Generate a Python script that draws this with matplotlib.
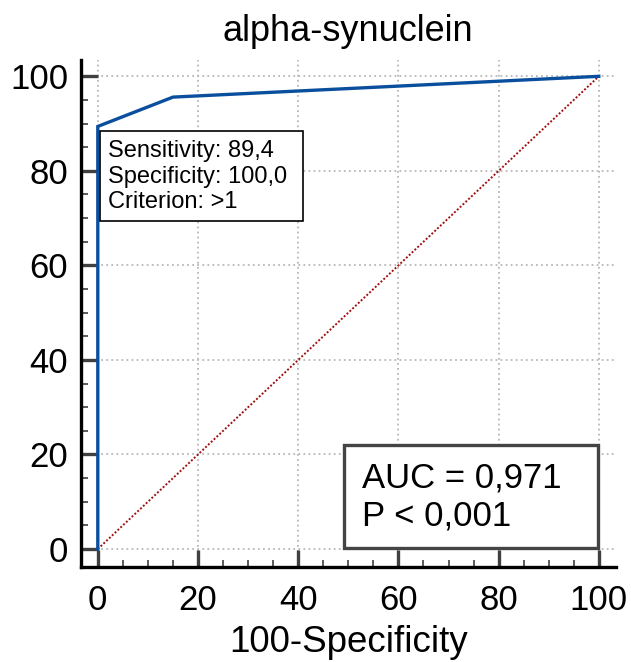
import matplotlib
matplotlib.use("Agg")
import matplotlib.pyplot as plt
from matplotlib.ticker import MultipleLocator
from matplotlib.patches import Rectangle

plt.rcParams['font.family'] = ['Liberation Sans', 'DejaVu Sans']

# ROC curve points (100-Specificity, Sensitivity)
fpr = [0, 0, 15, 100]
tpr = [0, 89.4, 95.6, 100]
ref_x = [0, 100]
ref_y = [0, 100]
title = "alpha-synuclein"
xlabel = "100-Specificity"
cut_lines = ["Sensitivity: 89,4", "Specificity: 100,0", "Criterion: >1"]
auc_lines = ["AUC = 0,971", "P < 0,001"]

fig = plt.figure(figsize=(6.31, 6.62), dpi=100)
ax = fig.add_axes([0.128, 0.1435, 0.848, 0.7655])

ax.set_xlim(-3.4, 103.4)
ax.set_ylim(-3.8, 103.4)

ax.grid(True, which='major', linestyle=(0, (1, 1.8)), color='#b8b8b8', linewidth=1.3)
ax.set_axisbelow(True)

ax.plot(ref_x, ref_y, linestyle=(0, (1, 1)), color='#a01010', linewidth=1.4, zorder=2)
ax.plot(fpr, tpr, color='#0a4f9e', linewidth=2.4, zorder=3, solid_joinstyle='miter')

for s in ['top', 'right']:
    ax.spines[s].set_visible(False)
for s in ['left', 'bottom']:
    ax.spines[s].set_linewidth(2.4)
    ax.spines[s].set_color('black')

ax.xaxis.set_major_locator(MultipleLocator(20))
ax.yaxis.set_major_locator(MultipleLocator(20))
ax.xaxis.set_minor_locator(MultipleLocator(5))
ax.yaxis.set_minor_locator(MultipleLocator(5))
ax.tick_params(which='major', direction='in', length=12, width=2.4, color='#404040',
               labelsize=25, pad=12)
ax.tick_params(axis='y', which='major', pad=9)
ax.tick_params(which='minor', direction='in', length=5, width=1.2, color='#404040')
ax.set_xticks([0, 20, 40, 60, 80, 100])
ax.set_yticks([0, 20, 40, 60, 80, 100])

ax.set_xlabel(xlabel, fontsize=26.5, labelpad=6)
fig.text(0.552, 0.952, title, ha='center', va='center', fontsize=26)

# criterion box
r1 = Rectangle((0.4, 69.3), 40.6, 19.1, facecolor='white', edgecolor='black',
               linewidth=1.2, zorder=4)
ax.add_patch(r1)
ax.text(2.0, 78.8, "\n".join(cut_lines), ha='left', va='center', fontsize=17,
        linespacing=1.2, zorder=5)

# AUC box
r2 = Rectangle((49.1, 0.3), 50.7, 21.7, facecolor='white', edgecolor='#444444',
               linewidth=2.4, zorder=4)
ax.add_patch(r2)
ax.text(52.7, 11.0, "\n".join(auc_lines), ha='left', va='center', fontsize=25,
        linespacing=1.22, zorder=5)

fig.savefig("out.png", dpi=100)
